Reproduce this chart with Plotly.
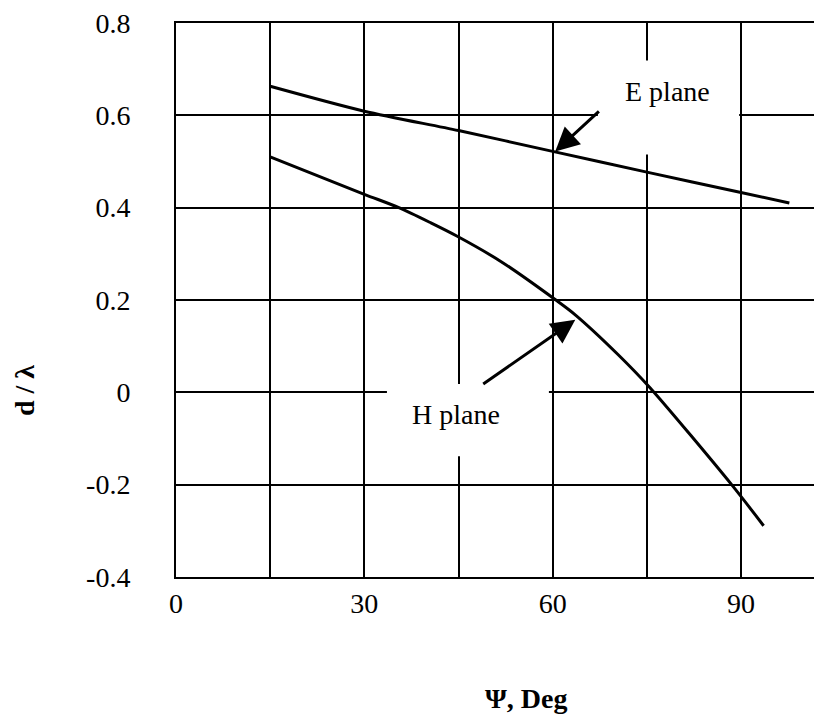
import plotly.graph_objects as go

# ---- data ----
psi_e = [15, 30, 45, 60, 75, 90, 97.7]
d_e = [0.663, 0.609, 0.567, 0.522, 0.477, 0.433, 0.41]

psi_h = [15, 30, 35.5, 40.6, 44.8, 51.8, 60.5, 63.5, 70.4, 75.5, 88.5, 93.6]
d_h = [0.51, 0.429, 0.40, 0.367, 0.338, 0.283, 0.20, 0.169, 0.082, 0.01, -0.20, -0.289]

x_ticks = [0, 30, 60, 90]
x_ticklabels = ["0", "30", "60", "90"]
y_ticks = [-0.4, -0.2, 0, 0.2, 0.4, 0.6, 0.8]
y_ticklabels = ["-0.4", "-0.2", "0", "0.2", "0.4", "0.6", "0.8"]

FONT = "Liberation Serif, Times New Roman, serif"

fig = go.Figure()
fig.add_trace(go.Scatter(x=psi_e, y=d_e, mode="lines",
                         line=dict(color="black", width=3, shape="spline", smoothing=0.8),
                         name="E plane", showlegend=False))
fig.add_trace(go.Scatter(x=psi_h, y=d_h, mode="lines",
                         line=dict(color="black", width=3, shape="spline", smoothing=0.8),
                         name="H plane", showlegend=False))

# page body has an 8px margin, so the figure is sized/placed to compensate
fig.update_layout(
    width=814, height=711,
    margin=dict(l=168, r=0, t=9, b=142),
    paper_bgcolor="white", plot_bgcolor="white",
    font=dict(family=FONT, size=28, color="black"),
    showlegend=False,
)
fig.update_xaxes(
    range=[0, 102.9], tickmode="array", tickvals=x_ticks, ticktext=x_ticklabels,
    showgrid=True, gridcolor="black", gridwidth=2,
    minor=dict(tickmode="linear", tick0=0, dtick=15, showgrid=True, gridcolor="black", gridwidth=2),
    showline=True, linecolor="black", linewidth=2, mirror=True,
    zeroline=False, ticks="", tickfont=dict(size=28), ticklabelstandoff=0,
    ticklabeloverflow="allow",
)
fig.update_yaxes(
    range=[-0.4, 0.8], tickmode="array", tickvals=y_ticks, ticktext=y_ticklabels,
    showgrid=True, gridcolor="black", gridwidth=2,
    showline=True, linecolor="black", linewidth=2, mirror=False,
    zeroline=False, ticks="", tickfont=dict(size=28), ticklabelstandoff=38,
    ticklabeloverflow="allow",
)

# white text-box backgrounds that interrupt the grid (as in the original)
fig.add_shape(type="rect", xref="x", yref="y", x0=67.2, x1=89.7, y0=0.515, y1=0.7186,
              fillcolor="white", line=dict(width=0), layer="between")
fig.add_shape(type="rect", xref="x", yref="y", x0=33.6, x1=59.4, y0=-0.1385, y1=0.018,
              fillcolor="white", line=dict(width=0), layer="between")

fig.add_annotation(x=78.3, y=0.652, xref="x", yref="y", text="E plane",
                   showarrow=False, font=dict(size=28))
fig.add_annotation(x=44.6, y=-0.0485, xref="x", yref="y", text="H plane",
                   showarrow=False, font=dict(size=28))
fig.add_annotation(x=60.4, y=0.5214, ax=67.6, ay=0.6114, xref="x", yref="y",
                   axref="x", ayref="y", text="", showarrow=True,
                   arrowhead=2, arrowsize=1.6, arrowwidth=3, arrowcolor="black", standoff=0)
fig.add_annotation(x=63.6, y=0.157, ax=48.7, ay=0.0158, xref="x", yref="y",
                   axref="x", ayref="y", text="", showarrow=True,
                   arrowhead=2, arrowsize=1.6, arrowwidth=3, arrowcolor="black", standoff=0)

fig.add_annotation(xref="paper", yref="paper", x=-0.2353, y=0.3375, text="<b>d / λ</b>",
                   xanchor="center", yanchor="middle",
                   textangle=-90, showarrow=False, font=dict(size=28))
fig.add_annotation(xref="paper", yref="paper", x=0.5418, y=-0.2196, text="<b>Ψ, Deg</b>",
                   xanchor="center", yanchor="middle",
                   showarrow=False, font=dict(size=28))

fig.write_html("out.html")
